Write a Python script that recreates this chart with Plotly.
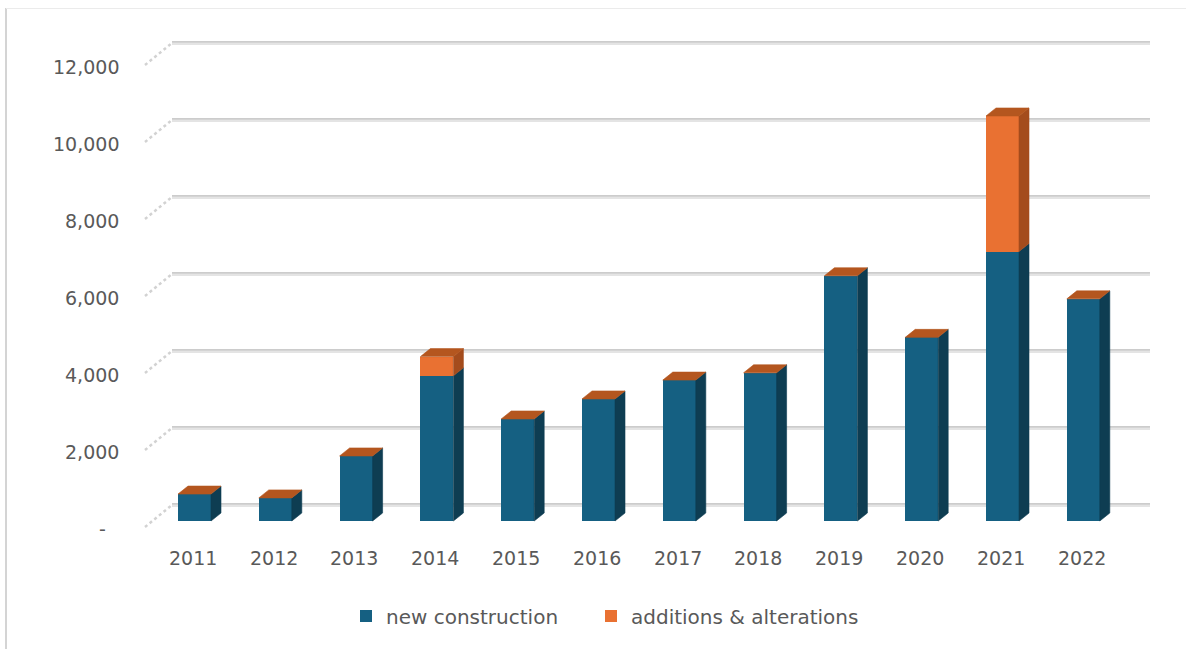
import plotly.graph_objects as go

# ---- data -------------------------------------------------------------
years = ["2011", "2012", "2013", "2014", "2015", "2016",
         "2017", "2018", "2019", "2020", "2021", "2022"]
new_construction = [700, 600, 1690, 3770, 2650, 3170,
                    3660, 3850, 6370, 4770, 7000, 5770]
additions_alterations = [0, 0, 0, 500, 0, 0,
                         0, 0, 0, 0, 3520, 0]
y_ticks = [0, 2000, 4000, 6000, 8000, 10000, 12000]
y_tick_text = ["-", "2,000", "4,000", "6,000", "8,000", "10,000", "12,000"]

# ---- page geometry ----------------------------------------------------
W, H = 1186, 649
CAT_PX0, CAT_STEP = 194.5, 80.8      # pixel centre of first category, spacing
ZERO_PX, PX_PER_VAL = 521.0, 0.0385  # pixel row of value 0 on bar fronts
BAR_PX = 33                          # front face width
DEPTH_DX, DEPTH_DY = 10, 8           # bar depth (pixels, up-right)
WALL_BACK_PX, WALL_FRONT_PX = 16, -6 # back/front of the floor relative to bars
WALL_X_BACK_PX, WALL_X_FRONT_PX, GRID_RIGHT_PX = 172, 145, 1150
LEGEND_X_PX = (346, 591)             # left edge of each legend entry
LEGEND_Y_PX = 616


def px_x(px):
    return (px - CAT_PX0) / CAT_STEP


def px_y(py):
    return (ZERO_PX - py) / PX_PER_VAL


xs = list(range(len(years)))
bar_w = BAR_PX / CAT_STEP
ddx = DEPTH_DX / CAT_STEP
ddy = DEPTH_DY / PX_PER_VAL

BLUE, BLUE_SIDE = "#156082", "#0E3D52"
ORANGE, ORANGE_SIDE, TOP = "#E97132", "#A44C1D", "#B4561F"
TEXT = "#595959"
FONT = "DejaVu Sans"

fig = go.Figure()

# front faces
fig.add_trace(go.Bar(x=xs, y=new_construction, width=bar_w, name="new construction",
                     marker=dict(color=BLUE, line=dict(width=0)), hoverinfo="skip",
                     legend="legend"))
fig.add_trace(go.Bar(x=xs, y=additions_alterations, base=new_construction, width=bar_w,
                     name="additions & alterations",
                     marker=dict(color=ORANGE, line=dict(width=0)), hoverinfo="skip",
                     legend="legend2"))


def side_poly(xc, b, t):
    xr = xc + bar_w / 2
    return [xr, xr + ddx, xr + ddx, xr, xr, None], [b, b + ddy, t + ddy, t, b, None]


def top_poly(xc, t):
    xl, xr = xc - bar_w / 2, xc + bar_w / 2
    return [xl, xl + ddx, xr + ddx, xr, xl, None], [t, t + ddy, t + ddy, t, t, None]


sbx, sby, sox, soy, tx, ty = [], [], [], [], [], []
for xc, n, a in zip(xs, new_construction, additions_alterations):
    px_, py_ = side_poly(xc, 0, n)
    sbx += px_; sby += py_
    if a > 0:
        px_, py_ = side_poly(xc, n, n + a)
        sox += px_; soy += py_
    px_, py_ = top_poly(xc, n + a)
    tx += px_; ty += py_

for fx, fy, col in [(sbx, sby, BLUE_SIDE), (sox, soy, ORANGE_SIDE), (tx, ty, TOP)]:
    fig.add_trace(go.Scatter(x=fx, y=fy, mode="lines", fill="toself", fillcolor=col,
                             line=dict(width=0.6, color=col), showlegend=False,
                             hoverinfo="skip"))

# gridlines on the back wall plus their run along the side wall
shapes = []
xb, xf, xr = px_x(WALL_X_BACK_PX), px_x(WALL_X_FRONT_PX), px_x(GRID_RIGHT_PX)
back_off = WALL_BACK_PX / PX_PER_VAL
front_off = WALL_FRONT_PX / PX_PER_VAL
for v in y_ticks:
    yb = v + back_off
    shapes.append(dict(type="line", xref="x", yref="y", x0=xb, x1=xr, y0=yb, y1=yb,
                       line=dict(color="#E4E4E4", width=4), layer="below"))
    shapes.append(dict(type="line", xref="x", yref="y", x0=xb, x1=xr,
                       y0=yb + 1.2 / PX_PER_VAL, y1=yb + 1.2 / PX_PER_VAL,
                       line=dict(color="#C4C4C4", width=1.2), layer="below"))
    shapes.append(dict(type="line", xref="x", yref="y", x0=xf, x1=xb,
                       y0=v + front_off, y1=yb,
                       line=dict(color="#D2D2D2", width=2.5, dash="dot"), layer="below"))

# chart-area border
shapes.append(dict(type="line", xref="paper", yref="paper", x0=6 / W, x1=6 / W,
                   y0=1 - 8 / H, y1=-0.05, line=dict(color="#D4D4D4", width=2)))
shapes.append(dict(type="line", xref="paper", yref="paper", x0=6 / W, x1=1.05,
                   y0=1 - 8.5 / H, y1=1 - 8.5 / H, line=dict(color="#EBEBEB", width=1)))

annotations = []
# value labels on the left
for v, t in zip(y_ticks, y_tick_text):
    annotations.append(dict(x=px_x(121 if v else 108), y=v + px_y(529), xref="x", yref="y",
                            text=t, showarrow=False, xanchor="right", yanchor="middle",
                            font=dict(family=FONT, size=19, color=TEXT)))
# category labels
for xc, yr in zip(xs, years):
    annotations.append(dict(x=xc - 0.02, y=px_y(558), xref="x", yref="y", text=yr,
                            showarrow=False, xanchor="center", yanchor="middle",
                            font=dict(family=FONT, size=19, color=TEXT)))

legend_style = dict(orientation="h", xanchor="left", y=1 - LEGEND_Y_PX / H,
                    yanchor="middle", font=dict(family=FONT, size=20, color=TEXT),
                    bgcolor="rgba(0,0,0,0)", itemclick=False, itemdoubleclick=False)

fig.update_layout(
    width=W, height=H, autosize=False,
    margin=dict(l=0, r=0, t=0, b=0),
    paper_bgcolor="white", plot_bgcolor="white",
    barmode="stack", bargap=0,
    xaxis=dict(range=[px_x(0), px_x(W)], visible=False, fixedrange=True),
    yaxis=dict(range=[px_y(H), px_y(0)], visible=False, fixedrange=True),
    shapes=shapes, annotations=annotations,
    showlegend=True,
    legend=dict(x=LEGEND_X_PX[0] / W, **legend_style),
    legend2=dict(x=LEGEND_X_PX[1] / W, **legend_style),
)

fig.write_html("out.html")
